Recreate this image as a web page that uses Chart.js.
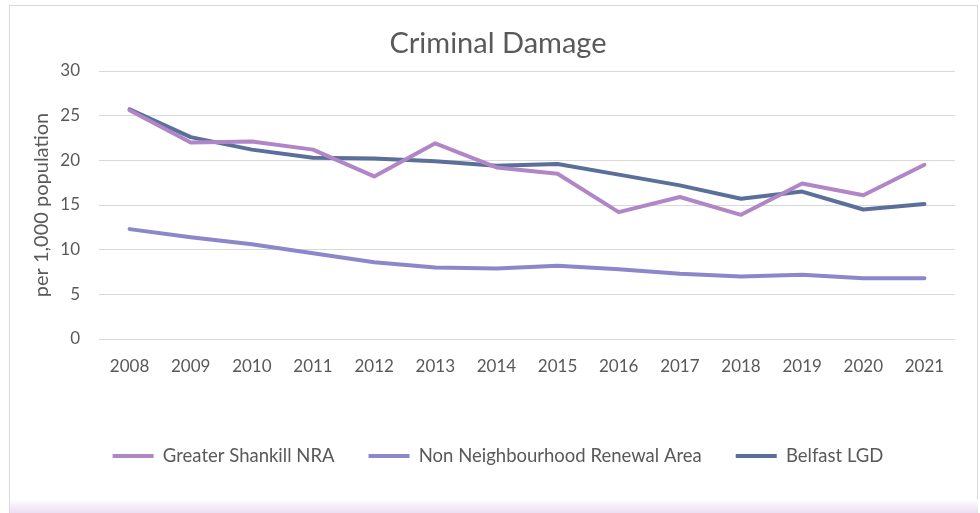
<!DOCTYPE html>
<html>
<head>
<meta charset="utf-8">
<script src="https://cdn.jsdelivr.net/npm/chart.js@4"></script>
<style>
  body { margin: 0; background: #fff; width: 980px; height: 513px; overflow: hidden; position: relative; }
  #box { position: absolute; left: 9px; top: 5px; width: 969px; height: 508px; border: 1px solid #d9d9d9; border-bottom: none; box-sizing: border-box; }
  #wrap { position: absolute; left: 10px; top: 6px; width: 968px; height: 495px; }
  #fade { position: absolute; left: 10px; top: 499px; width: 968px; height: 14px; background: linear-gradient(#ffffff, #ebdff3); }
</style>
</head>
<body>
<div id="box"></div>
<div id="wrap"><canvas id="crimeChart"></canvas></div>
<div id="fade"></div>
<script>
const years = ["2008", "2009", "2010", "2011", "2012", "2013", "2014", "2015", "2016", "2017", "2018", "2019", "2020", "2021"];
const shankill = [25.6, 22.0, 22.1, 21.2, 18.2, 21.9, 19.2, 18.5, 14.2, 15.9, 13.9, 17.4, 16.1, 19.5];
const nonNra = [12.3, 11.4, 10.6, 9.6, 8.6, 8.0, 7.9, 8.2, 7.8, 7.3, 7.0, 7.2, 6.8, 6.8];
const belfast = [25.7, 22.6, 21.2, 20.3, 20.2, 19.9, 19.4, 19.6, 18.4, 17.2, 15.7, 16.5, 14.5, 15.1];

const FONT = "Lato";
const TEXT = "#595959";

function makeSet(label, data, color) {
  return {
    label: label,
    data: data,
    borderColor: color,
    backgroundColor: color,
    borderWidth: 4,
    pointRadius: 0,
    tension: 0,
    borderJoinStyle: "round",
    borderCapStyle: "round",
  };
}

const ctx = document.getElementById("crimeChart").getContext("2d");
new Chart(ctx, {
  type: "line",
  data: {
    labels: years,
    datasets: [
      makeSet("Greater Shankill NRA", shankill, "#b186c7"),
      makeSet("Non Neighbourhood Renewal Area", nonNra, "#8b87ca"),
      makeSet("Belfast LGD", belfast, "#5a6f99"),
    ],
  },
  options: {
    responsive: true,
    maintainAspectRatio: false,
    animation: false,
    layout: { padding: { left: 8, right: 0, top: 0, bottom: 25.75 } },
    plugins: {
      title: {
        display: true,
        text: "Criminal Damage",
        color: TEXT,
        font: { family: FONT, size: 29, weight: "normal" },
        padding: { top: 20.6, bottom: 9.6 },
      },
      legend: {
        position: "bottom",
        labels: {
          color: TEXT,
          font: { family: FONT, size: 18.5 },
          usePointStyle: true,
          pointStyle: "line",
          pointStyleWidth: 41,
          padding: 34,
        },
      },
      tooltip: { enabled: false },
    },
    scales: {
      x: {
        offset: true,
        grid: { display: false, drawTicks: false },
        border: { display: false },
        ticks: { color: TEXT, font: { family: FONT, size: 17 }, padding: 17, maxRotation: 0 },
        afterFit: (s) => { s.height = 73.75; },
      },
      y: {
        min: 0,
        max: 30,
        ticks: { stepSize: 5, color: TEXT, font: { family: FONT, size: 17 }, padding: 19 },
        grid: { color: "#d9d9d9", lineWidth: 1, drawTicks: false },
        border: { display: false },
        title: {
          display: true,
          text: "per 1,000 population",
          color: TEXT,
          font: { family: FONT, size: 20 },
          padding: { top: 12, bottom: 0 },
        },
        afterFit: (s) => { s.width = 81; },
      },
      yRight: {
        position: "right",
        display: true,
        grid: { display: false },
        border: { display: false },
        ticks: { display: false },
        afterFit: (s) => { s.width = 23; },
      },
    },
  },
});
</script>
</body>
</html>
